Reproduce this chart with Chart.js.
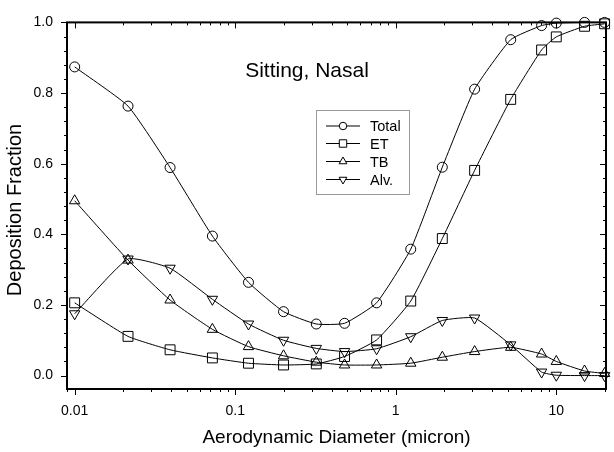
<!DOCTYPE html>
<html>
<head>
<meta charset="utf-8">
<script src="https://cdn.jsdelivr.net/npm/chart.js@4"></script>
<style>
  html, body { margin: 0; padding: 0; background: #fff; }
  #wrap { width: 614px; height: 452px; }
</style>
</head>
<body>
<div id="wrap"><canvas id="chart"></canvas></div>
<script>
const FONT = 'Arial, "Liberation Sans", sans-serif';

// particle sizes (micron) and deposition fractions
const diameters = [0.01, 0.0215, 0.0393, 0.0721, 0.121, 0.2, 0.32, 0.48, 0.76, 1.24, 1.95, 3.1, 5.2, 8.1, 10, 15, 20];
const total = [0.874, 0.763, 0.589, 0.395, 0.264, 0.181, 0.146, 0.148, 0.206, 0.358, 0.590, 0.811, 0.951, 0.991, 0.998, 1.0, 1.0];
const et    = [0.206, 0.111, 0.073, 0.050, 0.035, 0.030, 0.033, 0.054, 0.101, 0.211, 0.388, 0.581, 0.782, 0.922, 0.959, 0.989, 0.996];
const tb    = [0.495, 0.327, 0.214, 0.131, 0.082, 0.056, 0.038, 0.030, 0.030, 0.035, 0.052, 0.068, 0.080, 0.061, 0.040, 0.013, 0.006];
const alv   = [0.175, 0.330, 0.304, 0.216, 0.146, 0.100, 0.077, 0.068, 0.076, 0.110, 0.156, 0.163, 0.087, 0.010, 0.001, 0.0, 0.0];

const seriesNames = ["Total", "ET", "TB", "Alv."];
const xTickLabels = [0.01, 0.1, 1, 10];
const yTickLabels = [0, 0.2, 0.4, 0.6, 0.8, 1.0];
const X_MIN = 0.00896, X_MAX = 20.4;
const Y_MIN = -0.038, Y_MAX = 1.0;

function pts(values) {
  return diameters.map((d, i) => ({ x: d, y: values[i] }));
}

function series(label, values, style, radius, rotation = 0) {
  return {
    label, data: pts(values),
    borderColor: "#000", borderWidth: 1,
    pointStyle: style, pointRadius: radius, pointRotation: rotation,
    pointBorderColor: "#000", pointBorderWidth: 1,
    pointBackgroundColor: "rgba(0,0,0,0)",
    tension: 0.15, clip: false,
  };
}

function xMinorTicks() {
  const out = [];
  for (let k = -3; k <= 1; k++) {
    for (let m = 1; m <= 9; m++) {
      const v = m * Math.pow(10, k);
      if (v >= X_MIN && v <= X_MAX) out.push({ v, major: m === 1 });
    }
  }
  return out;
}

function yMinorTicks() {
  const out = [];
  for (let i = 0; i <= 25; i++) out.push({ v: i * 0.04, major: i % 5 === 0 });
  return out;
}

function marker(ctx, style, x, y, r, rot) {
  ctx.beginPath();
  if (style === "circle") {
    ctx.arc(x, y, r, 0, Math.PI * 2);
  } else if (style === "rect") {
    const s = Math.SQRT1_2 * r;
    ctx.rect(x - s, y - s, 2 * s, 2 * s);
  } else {
    let a = rot * Math.PI / 180;
    ctx.moveTo(x + Math.sin(a) * r, y - Math.cos(a) * r);
    a += Math.PI * 2 / 3;
    ctx.lineTo(x + Math.sin(a) * r, y - Math.cos(a) * r);
    a += Math.PI * 2 / 3;
    ctx.lineTo(x + Math.sin(a) * r, y - Math.cos(a) * r);
    ctx.closePath();
  }
  ctx.fill();
  ctx.stroke();
}

const framePlugin = {
  id: "frame",
  beforeDatasetsDraw(chart) {
    const { ctx, chartArea: a, scales: { x, y } } = chart;
    ctx.save();
    ctx.strokeStyle = "#000";
    ctx.lineWidth = 1;
    ctx.beginPath();
    xMinorTicks().forEach(t => {
      const px = Math.round(x.getPixelForValue(t.v)) + 0.5;
      const len = t.major ? 6 : 3;
      ctx.moveTo(px, a.bottom); ctx.lineTo(px, a.bottom + len);
      ctx.moveTo(px, a.top); ctx.lineTo(px, a.top + len);
    });
    yMinorTicks().forEach(t => {
      const py = Math.round(y.getPixelForValue(t.v)) + 0.5;
      const len = t.major ? 6 : 3;
      ctx.moveTo(a.left, py); ctx.lineTo(a.left - len, py);
      ctx.moveTo(a.right, py); ctx.lineTo(a.right - len, py);
    });
    ctx.stroke();
    ctx.lineWidth = 2;
    ctx.strokeRect(a.left, a.top, a.right - a.left, a.bottom - a.top);
    ctx.restore();
  },
  afterDraw(chart) {
    const { ctx } = chart;
    ctx.save();
    ctx.fillStyle = "#000";
    ctx.font = "21px " + FONT;
    ctx.textAlign = "center";
    ctx.textBaseline = "alphabetic";
    ctx.fillText("Sitting, Nasal", 307, 77);

    // y axis title
    ctx.save();
    ctx.translate(15, 210);
    ctx.rotate(-Math.PI / 2);
    ctx.font = "20px " + FONT;
    ctx.textBaseline = "middle";
    ctx.fillText("Deposition Fraction", 0, 0);
    ctx.restore();

    // legend
    ctx.strokeStyle = "#999";
    ctx.lineWidth = 1;
    ctx.strokeRect(316.5, 110.5, 93, 84);
    const rows = [126, 143.5, 161.5, 179.5];
    ctx.font = "14.5px " + FONT;
    ctx.textAlign = "left";
    ctx.textBaseline = "middle";
    chart.data.datasets.forEach((ds, i) => {
      const ry = rows[i];
      ctx.strokeStyle = "#000";
      ctx.beginPath();
      ctx.moveTo(326, ry); ctx.lineTo(360, ry);
      ctx.stroke();
      ctx.fillStyle = "#fff";
      marker(ctx, ds.pointStyle, 343, ry, ds.pointRadius * 0.75, ds.pointRotation);
      ctx.fillStyle = "#000";
      ctx.fillText(ds.label, 370, ry + 1);
    });
    ctx.restore();
  },
};

new Chart(document.getElementById("chart"), {
  type: "line",
  data: {
    datasets: [
      series(seriesNames[0], total, "circle", 5),
      series(seriesNames[1], et, "rect", 7),
      series(seriesNames[2], tb, "triangle", 6),
      series(seriesNames[3], alv, "triangle", 6, 180),
    ],
  },
  options: {
    responsive: true,
    maintainAspectRatio: false,
    animation: false,
    layout: { padding: { top: 15, right: 4, left: 0, bottom: 0 } },
    plugins: { legend: { display: false }, tooltip: { enabled: false } },
    scales: {
      x: {
        type: "logarithmic", min: X_MIN, max: X_MAX,
        afterFit: s => { s.height = 63; },
        afterBuildTicks: s => { s.ticks = xTickLabels.map(v => ({ value: v })); },
        grid: { display: false, drawTicks: false },
        border: { display: false },
        ticks: {
          color: "#000", padding: 14, maxRotation: 0, autoSkip: false,
          font: { family: FONT, size: 14 },
          callback: v => String(v),
        },
        title: {
          display: true, text: "Aerodynamic Diameter (micron)", color: "#000",
          font: { family: FONT, size: 19 }, padding: { top: 0, bottom: 3 },
        },
      },
      y: {
        type: "linear", min: Y_MIN, max: Y_MAX,
        afterFit: s => { s.width = 67; },
        afterBuildTicks: s => { s.ticks = yTickLabels.map(v => ({ value: v })); },
        grid: { display: false, drawTicks: false },
        border: { display: false },
        ticks: {
          color: "#000", padding: 14,
          font: { family: FONT, size: 14 },
          callback: v => v.toFixed(1),
        },
      },
    },
  },
  plugins: [framePlugin],
});
</script>
</body>
</html>
